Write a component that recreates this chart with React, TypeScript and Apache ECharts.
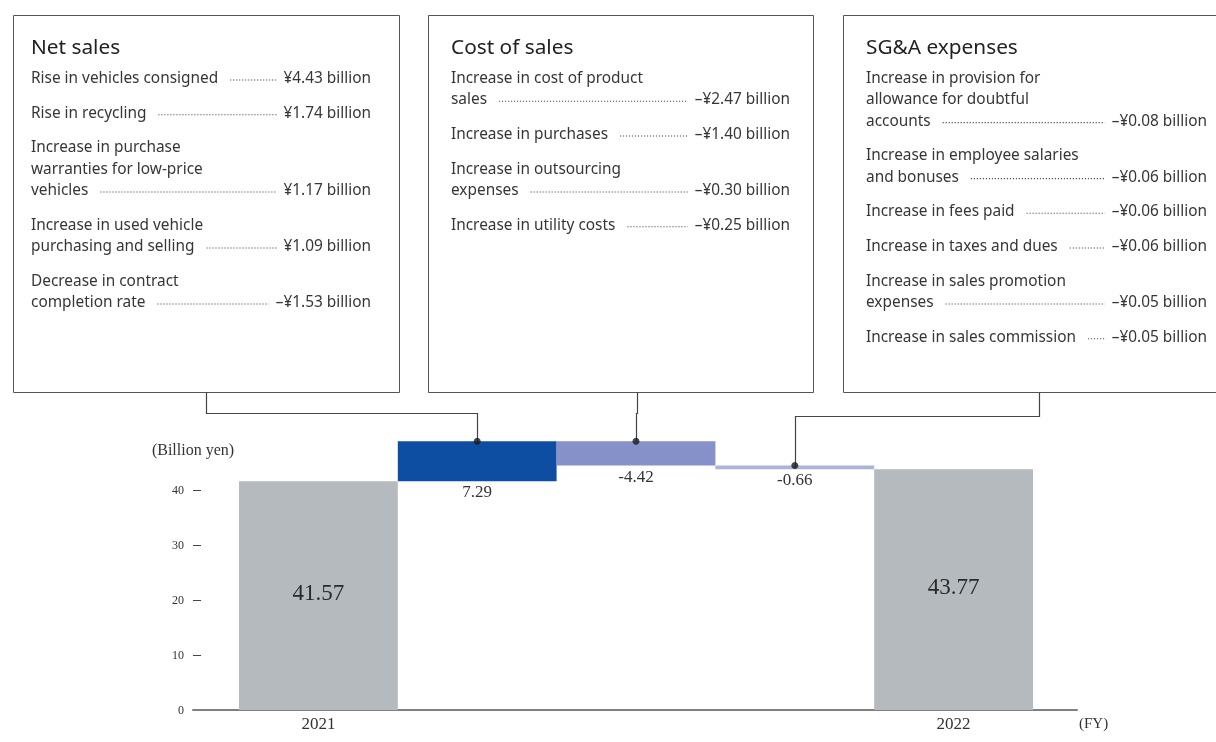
import React, { useEffect, useRef } from "react";
import * as echarts from "echarts";

// ---- data ----
const categories = ["2021", "", "", "", "2022"];
const startValue = 41.57;
const deltas = [7.29, -4.42, -0.66];
const endValue = 43.77;
const yLabelValues = [0, 10, 20, 30, 40];
const yTickValues = [10, 20, 30, 40];
const barColors = ["#b4babd", "#0e4ea2", "#8591c8", "#abb3dd", "#b4babd"];

const netSalesItems = [
  { lines: ["Rise in vehicles consigned"], value: "¥4.43 billion" },
  { lines: ["Rise in recycling"], value: "¥1.74 billion" },
  { lines: ["Increase in purchase", "warranties for low-price", "vehicles"], value: "¥1.17 billion" },
  { lines: ["Increase in used vehicle", "purchasing and selling"], value: "¥1.09 billion" },
  { lines: ["Decrease in contract", "completion rate"], value: "–¥1.53 billion" },
];
const costOfSalesItems = [
  { lines: ["Increase in cost of product", "sales"], value: "–¥2.47 billion" },
  { lines: ["Increase in purchases"], value: "–¥1.40 billion" },
  { lines: ["Increase in outsourcing", "expenses"], value: "–¥0.30 billion" },
  { lines: ["Increase in utility costs"], value: "–¥0.25 billion" },
];
const sgaItems = [
  { lines: ["Increase in provision for", "allowance for doubtful", "accounts"], value: "–¥0.08 billion" },
  { lines: ["Increase in employee salaries", "and bonuses"], value: "–¥0.06 billion" },
  { lines: ["Increase in fees paid"], value: "–¥0.06 billion" },
  { lines: ["Increase in taxes and dues"], value: "–¥0.06 billion" },
  { lines: ["Increase in sales promotion", "expenses"], value: "–¥0.05 billion" },
  { lines: ["Increase in sales commission"], value: "–¥0.05 billion" },
];

const boxes = [
  { title: "Net sales", items: netSalesItems, left: 13, right: 399, textLeft: 31, valueRight: 371, anchorX: 206, elbowY: 413, target: 1 },
  { title: "Cost of sales", items: costOfSalesItems, left: 428, right: 813, textLeft: 451, valueRight: 790, anchorX: 637, elbowY: 413, target: 2 },
  { title: "SG&A expenses", items: sgaItems, left: 843, right: 1240, textLeft: 866, valueRight: 1207, anchorX: 1039, elbowY: 416, target: 3 },
];

const SANS = '"Noto Sans", "Open Sans", sans-serif';
const SERIF = '"Liberation Serif", "DejaVu Serif", serif';

export default function App() {
  const ref = useRef<HTMLDivElement>(null);
  useEffect(() => {
    if (!ref.current) return;
    const chart = echarts.init(ref.current, undefined, { renderer: "svg" });

    // waterfall construction
    let run = startValue;
    const base: number[] = [0];
    const heights: number[] = [startValue];
    const tops: number[] = [startValue];
    deltas.forEach((d) => {
      const next = run + d;
      base.push(Math.min(run, next));
      heights.push(Math.abs(d));
      tops.push(Math.max(run, next));
      run = next;
    });
    base.push(0);
    heights.push(endValue);
    tops.push(endValue);

    const visibleData = heights.map((h, i) => {
      const isTotal = i === 0 || i === heights.length - 1;
      const d = isTotal ? h : deltas[i - 1];
      return {
        value: h,
        itemStyle: { color: barColors[i] },
        label: isTotal
          ? { show: true, position: "inside", offset: [0, -3], fontSize: 23, fontFamily: SERIF, color: "#2a2a2a", formatter: () => h.toFixed(2) }
          : { show: true, position: "bottom", distance: 2, fontSize: 17, fontFamily: SERIF, color: "#333", formatter: () => (d < 0 ? "-" + Math.abs(d).toFixed(2) : d.toFixed(2)) },
      };
    });

    const dotData = deltas.map((_, k) => [k + 1, tops[k + 1]]);

    const gridTop = 435;
    const gridBottom = 32;

    chart.setOption({
      animation: false,
      grid: [
        { left: 239, right: 183, top: gridTop, bottom: gridBottom },
        { left: 193, right: 139, top: gridTop, bottom: gridBottom },
      ],
      xAxis: [
        {
          gridIndex: 0,
          type: "category",
          data: categories,
          axisLine: { show: false },
          axisTick: { show: false },
          axisLabel: { interval: 0, fontFamily: SERIF, fontSize: 17, color: "#333", margin: 5 },
        },
        {
          gridIndex: 1,
          type: "value",
          min: 0,
          max: 1,
          axisLine: { show: true, lineStyle: { color: "#808080", width: 2 } },
          axisTick: { show: false },
          axisLabel: { show: false },
          splitLine: { show: false },
          name: "(FY)",
          nameLocation: "end",
          nameGap: 2,
          nameTextStyle: { fontFamily: SERIF, fontSize: 15, color: "#333", verticalAlign: "top", padding: [5, 0, 0, 0] },
        },
      ],
      yAxis: [
        { gridIndex: 0, type: "value", min: 0, max: 50, show: false },
        {
          gridIndex: 1,
          type: "value",
          min: 0,
          max: 50,
          interval: 10,
          axisLine: { show: false },
          axisTick: { show: true, inside: true, length: 8, customValues: yTickValues, lineStyle: { color: "#444" } },
          axisLabel: { customValues: yLabelValues, margin: 9, fontFamily: SERIF, fontSize: 12, color: "#333" },
          splitLine: { show: false },
          name: "(Billion yen)",
          nameLocation: "end",
          nameGap: -14,
          nameTextStyle: { fontFamily: SERIF, fontSize: 16, color: "#333", verticalAlign: "middle", align: "center" },
        },
      ],
      series: [
        {
          type: "bar",
          stack: "w",
          xAxisIndex: 0,
          yAxisIndex: 0,
          barWidth: "100%",
          silent: true,
          itemStyle: { color: "transparent" },
          data: base,
        },
        {
          type: "bar",
          stack: "w",
          xAxisIndex: 0,
          yAxisIndex: 0,
          barWidth: "100%",
          data: visibleData,
        },
        {
          type: "scatter",
          xAxisIndex: 0,
          yAxisIndex: 0,
          symbolSize: 7,
          itemStyle: { color: "#1a1a1a" },
          z: 10,
          data: dotData,
        },
        { type: "line", xAxisIndex: 1, yAxisIndex: 1, data: [] },
      ],
    });

    // annotation boxes
    const canvas = document.createElement("canvas");
    const ctx = canvas.getContext("2d")!;
    const bodyFont = `15.4px ${SANS}`;
    const titleFont = `20.8px ${SANS}`;
    ctx.font = bodyFont;
    const measure = (s: string) => ctx.measureText(s).width;

    const boxTop = 15;
    const boxBottom = 392;
    const lineH = 21.3;
    const itemGap = 34.7;
    const graphics: any[] = [];

    boxes.forEach((b) => {
      graphics.push({
        type: "rect",
        shape: { x: b.left + 0.5, y: boxTop + 0.5, width: b.right - b.left, height: boxBottom - boxTop },
        style: { fill: "none", stroke: "#555", lineWidth: 1 },
      });
      graphics.push({
        type: "text",
        x: b.textLeft,
        y: 45.5,
        style: { text: b.title, font: titleFont, fill: "#222", textVerticalAlign: "middle" },
      });
      let y = 77.5;
      b.items.forEach((it) => {
        it.lines.forEach((ln, li) => {
          graphics.push({
            type: "text",
            x: b.textLeft,
            y,
            style: { text: ln, font: bodyFont, fill: "#363636", textVerticalAlign: "middle" },
          });
          if (li === it.lines.length - 1) {
            graphics.push({
              type: "text",
              x: b.valueRight,
              y,
              style: { text: it.value, font: bodyFont, fill: "#363636", textAlign: "right", textVerticalAlign: "middle" },
            });
            const x1 = b.textLeft + measure(ln) + 12;
            const x2 = b.valueRight - measure(it.value) - 7;
            if (x2 > x1) {
              graphics.push({
                type: "line",
                shape: { x1, y1: y + 2.5, x2, y2: y + 2.5 },
                style: { stroke: "#444", lineWidth: 1.1, lineDash: [1.1, 1.9] },
              });
            }
            y += itemGap;
          } else {
            y += lineH;
          }
        });
      });

      // connector
      const p = chart.convertToPixel({ seriesIndex: 2 }, dotData[b.target - 1]) as number[];
      const pts =
        Math.abs(p[0] - b.anchorX) < 1
          ? [[b.anchorX, boxBottom], [b.anchorX, p[1]]]
          : [[b.anchorX, boxBottom], [b.anchorX, b.elbowY], [p[0], b.elbowY], [p[0], p[1]]];
      graphics.push({
        type: "polyline",
        shape: { points: pts.map((q) => [Math.round(q[0]) + 0.5, Math.round(q[1]) + 0.5]) },
        style: { stroke: "#444", lineWidth: 1.2, fill: "none" },
        z: 5,
      });
    });

    chart.setOption({ graphic: graphics });

    return () => chart.dispose();
  }, []);

  return <div ref={ref} style={{ position: "fixed", left: 0, top: 0, width: 1216, height: 742 }} />;
}
